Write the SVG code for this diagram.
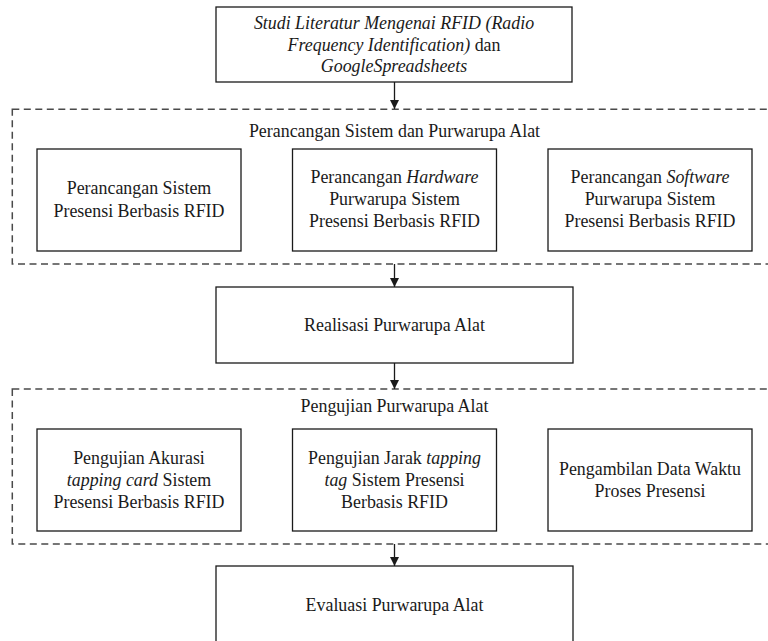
<svg xmlns="http://www.w3.org/2000/svg" width="768" height="641" viewBox="0 0 768 641">
<style>
  .box { fill: #fff; stroke: #1a1a1a; stroke-width: 1.3; }
  .grp { fill: none; stroke: #4a4a4a; stroke-width: 1.5; stroke-dasharray: 7 4.5; }
  .t { font-family: "Liberation Serif", "Times New Roman", serif; font-size: 17.9px; fill: #1a1a1a; text-anchor: middle; }
  .i { font-style: italic; }
  .conn { stroke: #1a1a1a; stroke-width: 1.3; fill: none; marker-end: url(#ah); }
</style>
<defs>
  <marker id="ah" viewBox="0 0 10 10" refX="10" refY="5" markerWidth="9" markerHeight="9" markerUnits="userSpaceOnUse" orient="auto">
    <path d="M0,0 L10,5 L0,10 Z" fill="#1a1a1a"/>
  </marker>
</defs>
<rect width="768" height="641" fill="#fff"/>

<g id="group-perancangan">
  <rect class="grp" x="12.3" y="109.3" width="780" height="154.7"/>
  <text class="t" x="394.5" y="137">Perancangan Sistem dan Purwarupa Alat</text>
</g>
<g id="group-pengujian">
  <rect class="grp" x="12.3" y="389" width="780" height="155"/>
  <text class="t" x="394.5" y="412">Pengujian Purwarupa Alat</text>
</g>

<g id="node-studi">
  <rect class="box" x="216" y="7" width="356" height="75"/>
  <text class="t" x="394" y="29"><tspan class="i">Studi Literatur Mengenai RFID (Radio</tspan></text>
  <text class="t" x="394" y="50.5"><tspan class="i">Frequency Identification)</tspan> dan</text>
  <text class="t" x="394" y="72"><tspan class="i">GoogleSpreadsheets</tspan></text>
</g>

<g id="node-perancangan-sistem">
  <rect class="box" x="37" y="149" width="204" height="102"/>
  <text class="t" x="139" y="194">Perancangan Sistem</text>
  <text class="t" x="139" y="216.5">Presensi Berbasis RFID</text>
</g>
<g id="node-perancangan-hardware">
  <rect class="box" x="292.5" y="149" width="204" height="102"/>
  <text class="t" x="394.5" y="183">Perancangan <tspan class="i">Hardware</tspan></text>
  <text class="t" x="394.5" y="205">Purwarupa Sistem</text>
  <text class="t" x="394.5" y="227">Presensi Berbasis RFID</text>
</g>
<g id="node-perancangan-software">
  <rect class="box" x="548" y="149" width="204" height="102"/>
  <text class="t" x="650" y="183">Perancangan <tspan class="i">Software</tspan></text>
  <text class="t" x="650" y="205">Purwarupa Sistem</text>
  <text class="t" x="650" y="227">Presensi Berbasis RFID</text>
</g>

<g id="node-realisasi">
  <rect class="box" x="216" y="287" width="357" height="76"/>
  <text class="t" x="394.5" y="331">Realisasi Purwarupa Alat</text>
</g>

<g id="node-uji-akurasi">
  <rect class="box" x="37" y="429" width="204" height="102"/>
  <text class="t" x="139" y="464">Pengujian Akurasi</text>
  <text class="t" x="139" y="486"><tspan class="i">tapping card</tspan> Sistem</text>
  <text class="t" x="139" y="508">Presensi Berbasis RFID</text>
</g>
<g id="node-uji-jarak">
  <rect class="box" x="292.5" y="429" width="204" height="102"/>
  <text class="t" x="394.5" y="464">Pengujian Jarak <tspan class="i">tapping</tspan></text>
  <text class="t" x="394.5" y="486"><tspan class="i">tag</tspan> Sistem Presensi</text>
  <text class="t" x="394.5" y="508">Berbasis RFID</text>
</g>
<g id="node-waktu">
  <rect class="box" x="548" y="429" width="204" height="102"/>
  <text class="t" x="650" y="474.5">Pengambilan Data Waktu</text>
  <text class="t" x="650" y="496.5">Proses Presensi</text>
</g>

<g id="node-evaluasi">
  <rect class="box" x="216" y="566" width="357" height="80"/>
  <text class="t" x="394.5" y="611">Evaluasi Purwarupa Alat</text>
</g>

<g id="connectors">
  <line class="conn" x1="394.5" y1="82" x2="394.5" y2="109"/>
  <line class="conn" x1="394.5" y1="264" x2="394.5" y2="287"/>
  <line class="conn" x1="394.5" y1="363" x2="394.5" y2="389"/>
  <line class="conn" x1="394.5" y1="544" x2="394.5" y2="566"/>
</g>
</svg>
